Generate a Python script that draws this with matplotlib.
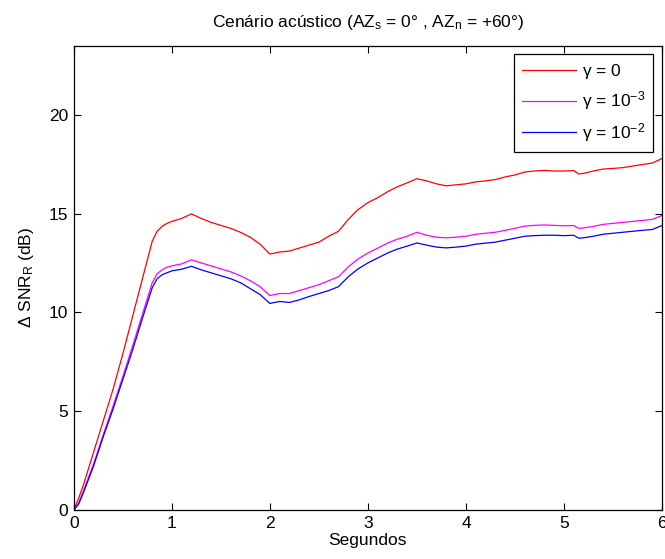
import numpy as np
import matplotlib
matplotlib.use('Agg')
import matplotlib.pyplot as plt

plt.rcParams['font.family'] = ['Liberation Sans', 'DejaVu Sans']
plt.rcParams['mathtext.fontset'] = 'custom'
plt.rcParams['mathtext.rm'] = 'Liberation Sans'
plt.rcParams['mathtext.it'] = 'Liberation Sans'

# time axis (s) and SNR gain curves (dB) for each regularisation value
t = [0, 0.05, 0.1, 0.2, 0.3, 0.4, 0.5, 0.6, 0.7, 0.8, 0.85, 0.9, 0.95, 1.0, 1.1, 1.2,
     1.3, 1.4, 1.5, 1.6, 1.7, 1.8, 1.9, 2.0, 2.05, 2.1, 2.2, 2.3, 2.4, 2.5, 2.6, 2.7,
     2.8, 2.9, 3.0, 3.1, 3.2, 3.3, 3.4, 3.5, 3.6, 3.7, 3.8, 3.9, 4.0, 4.1, 4.2, 4.3,
     4.4, 4.5, 4.6, 4.7, 4.8, 4.9, 5.0, 5.1, 5.15, 5.2, 5.3, 5.4, 5.5, 5.6, 5.7, 5.8,
     5.9, 6.0]

snr_g0 = [0, 0.6, 1.3, 2.9, 4.5, 6.1, 7.9, 9.8, 11.7, 13.6, 14.1, 14.35, 14.5, 14.6, 14.75, 14.98,
          14.75, 14.55, 14.4, 14.25, 14.05, 13.8, 13.45, 12.95, 13.0, 13.05, 13.1, 13.25, 13.4, 13.55, 13.85, 14.1,
          14.7, 15.2, 15.55, 15.8, 16.1, 16.35, 16.55, 16.76, 16.65, 16.5, 16.4, 16.45, 16.5, 16.6, 16.65, 16.72,
          16.85, 16.95, 17.1, 17.15, 17.18, 17.15, 17.15, 17.17, 17.0, 17.03, 17.15, 17.25, 17.28, 17.32, 17.4, 17.48,
          17.55, 17.78]

snr_g3 = [0, 0.35, 1.0, 2.3, 3.8, 5.25, 6.75, 8.3, 9.9, 11.5, 11.95, 12.15, 12.28, 12.35, 12.45, 12.66,
          12.5, 12.35, 12.2, 12.05, 11.85, 11.6, 11.3, 10.85, 10.9, 10.95, 10.95, 11.1, 11.25, 11.4, 11.6, 11.8,
          12.3, 12.7, 13.0, 13.25, 13.5, 13.7, 13.85, 14.05, 13.9, 13.8, 13.77, 13.8, 13.85, 13.95, 14.0, 14.05,
          14.15, 14.25, 14.36, 14.4, 14.42, 14.4, 14.38, 14.39, 14.25, 14.27, 14.35, 14.45, 14.5, 14.55, 14.6, 14.65,
          14.7, 14.9]

snr_g2 = [0, 0.3, 0.9, 2.2, 3.7, 5.1, 6.6, 8.1, 9.7, 11.25, 11.7, 11.9, 12.0, 12.1, 12.18, 12.33,
          12.15, 12.0, 11.85, 11.7, 11.5, 11.2, 10.9, 10.45, 10.5, 10.55, 10.5, 10.63, 10.8, 10.95, 11.1, 11.3,
          11.8, 12.2, 12.5, 12.75, 13.0, 13.2, 13.35, 13.51, 13.4, 13.3, 13.26, 13.3, 13.35, 13.45, 13.5, 13.55,
          13.65, 13.75, 13.85, 13.88, 13.9, 13.9, 13.88, 13.9, 13.75, 13.77, 13.85, 13.95, 14.0, 14.05, 14.1, 14.15,
          14.19, 14.39]

labels = [r'$\mathregular{\gamma}$ = 0',
          r'$\mathregular{\gamma}$ = 10$\mathregular{^{-3}}$',
          r'$\mathregular{\gamma}$ = 10$\mathregular{^{-2}}$']
colors = ['#ff0000', '#ff00ff', '#0000ff']

fs = 12.5

fig = plt.figure(figsize=(6.65, 5.59), dpi=100)
ax = fig.add_axes([0.111, 0.0877, 0.8845, 0.8309])

for y, lab, c in zip([snr_g0, snr_g3, snr_g2], labels, colors):
    ax.plot(t, y, color=c, lw=0.9, label=lab)

ax.set_xlim(0, 6)
ax.set_ylim(0, 23.5)
ax.set_xticks([0, 1, 2, 3, 4, 5, 6])
ax.set_yticks([0, 5, 10, 15, 20])
ax.tick_params(direction='in', top=True, right=True, length=5, width=0.8,
               labelsize=fs, pad=4)
for s in ax.spines.values():
    s.set_linewidth(0.9)

ax.set_xlabel('Segundos', fontsize=fs, labelpad=2)
ax.set_ylabel(r'$\Delta$ SNR$\mathregular{_R}$ (dB)', fontsize=fs, labelpad=9)
ax.set_title(r'Cenário acústico (AZ$\mathregular{_s}$ = 0° , AZ$\mathregular{_n}$ = +60°)',
             fontsize=fs, pad=13)

leg = ax.legend(loc='upper right', bbox_to_anchor=(0.985, 0.982), borderaxespad=0,
                fontsize=fs, fancybox=False, edgecolor='black', framealpha=1,
                handlelength=3.1, handletextpad=0.35, labelspacing=0.5,
                borderpad=0.45)
leg.get_frame().set_linewidth(0.9)

fig.savefig('out.png', dpi=100)
